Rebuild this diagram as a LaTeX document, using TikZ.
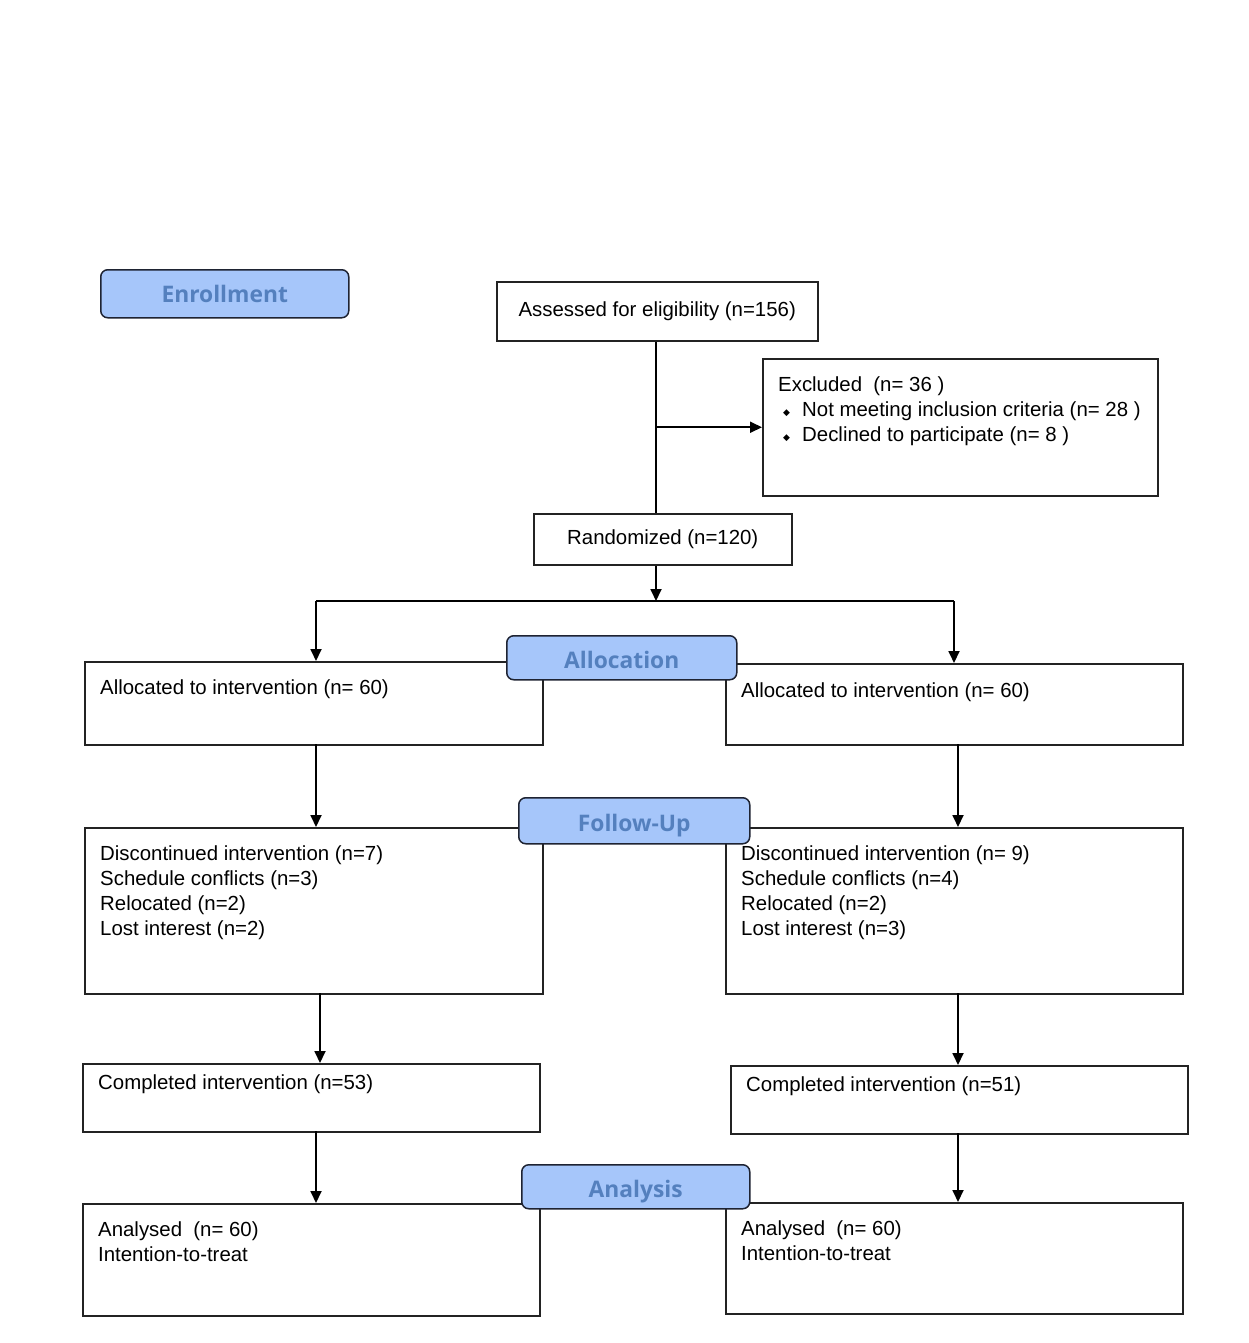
\documentclass[tikz,border=0pt]{standalone}
\usepackage{fontspec}
\setmainfont{Liberation Sans}
\newfontfamily\labfont{Open Sans}
\newfontfamily\symfont{DejaVu Sans}
\usetikzlibrary{arrows.meta}
\definecolor{labfill}{RGB}{166,198,250}
\definecolor{labtext}{RGB}{84,128,190}
\definecolor{boxline}{RGB}{35,35,35}
\definecolor{labline}{RGB}{30,35,50}
\newcommand{\bul}{\hspace*{5pt}\makebox[19pt][l]{\raisebox{1pt}{\symfont\fontsize{9}{9}\selectfont ◆}}}
\begin{document}
\begin{tikzpicture}[x=1pt,y=-1pt,
  box/.style={draw=boxline, line width=1.5pt, inner sep=0pt, anchor=north west, font=\fontsize{20.4}{25}\selectfont},
  phase/.style={draw=labline, line width=1.5pt, fill=labfill, rounded corners=7pt, inner sep=0pt,
    anchor=north west, font=\labfont\bfseries\fontsize{22.8}{26}\selectfont, text=labtext},
  lowtext/.style={text height=22pt, text depth=0pt},
  arr/.style={-{Triangle[length=12pt,width=11pt]}, line width=1.8pt},
  ln/.style={line width=1.8pt},
  txt/.style={anchor=north west, inner sep=0pt, align=left, font=\fontsize{20.4}{25}\selectfont}]
\useasboundingbox (0,0) rectangle (1249,1343);
\fill[white] (0,0) rectangle (1249,1343);

% boxes
\node[box, minimum width=321pt, minimum height=59pt] (assess) at (496,281) {Assessed for eligibility (n=156)};
\node[box, minimum width=395pt, minimum height=137pt] (excl) at (762,358) {};
\node[box, minimum width=258pt, minimum height=51pt] (rand) at (533,513) {Randomized (n=120)};
\node[box, minimum width=458pt, minimum height=83pt] (alloL) at (84,661) {};
\node[box, minimum width=457pt, minimum height=81pt] (alloR) at (725,663) {};
\node[box, minimum width=458pt, minimum height=166pt] (folL) at (84,827) {};
\node[box, minimum width=457pt, minimum height=166pt] (folR) at (725,827) {};
\node[box, minimum width=457pt, minimum height=68pt] (compL) at (82,1063) {};
\node[box, minimum width=457pt, minimum height=68pt] (compR) at (730,1065) {};
\node[box, minimum width=457pt, minimum height=112pt] (anaL) at (82,1203) {};
\node[box, minimum width=457pt, minimum height=111pt] (anaR) at (725,1202) {};

% texts
\node[txt] (tExcl) at (778,377) {Excluded\ \ (n= 36 )\\\bul Not meeting inclusion criteria (n= 28 )\\\bul Declined to participate (n= 8 )};
\node[txt] (tAlloL) at (100,680) {Allocated to intervention (n= 60)};
\node[txt] (tAlloR) at (741,683) {Allocated to intervention (n= 60)};
\node[txt] (tFolL) at (100,846) {Discontinued intervention (n=7)\\Schedule conflicts (n=3)\\Relocated (n=2)\\Lost interest (n=2)};
\node[txt] (tFolR) at (741,846) {Discontinued intervention (n= 9)\\Schedule conflicts (n=4)\\Relocated (n=2)\\Lost interest (n=3)};
\node[txt] (tCompL) at (98,1075) {Completed intervention (n=53)};
\node[txt] (tCompR) at (746,1077) {Completed intervention (n=51)};
\node[txt] (tAnaL) at (98,1222) {Analysed\ \ (n= 60)\\Intention-to-treat};
\node[txt] (tAnaR) at (741,1221) {Analysed\ \ (n= 60)\\Intention-to-treat};

% connectors
\coordinate (split) at (656,601);
\coordinate (bl) at (316,601);
\coordinate (br) at (954,601);
\draw[ln] (split |- assess.south) -- (split |- rand.north);
\draw[arr] (split |- excl.west) -- (excl.west);
\draw[arr] (split |- rand.south) -- (split);
\draw[ln] (bl) -- (br);
\draw[arr] (bl) -- (bl |- alloL.north);
\draw[arr] (br) -- (br |- alloR.north);
\coordinate (a1) at (316,744);
\coordinate (a2) at (958,744);
\draw[arr] (a1) -- (a1 |- folL.north);
\draw[arr] (a2) -- (a2 |- folR.north);
\coordinate (f1) at (320,993);
\coordinate (f2) at (958,993);
\draw[arr] (f1) -- (f1 |- compL.north);
\draw[arr] (f2) -- (f2 |- compR.north);
\coordinate (c1) at (316,1131);
\coordinate (c2) at (958,1133);
\draw[arr] (c1) -- (c1 |- anaL.north);
\draw[arr] (c2) -- (c2 |- anaR.north);

% phase labels
\node[phase, minimum width=248pt, minimum height=48pt] (enr) at (100,269) {Enrollment};
\node[phase, lowtext, minimum width=230pt, minimum height=44pt] (alloc) at (506,635) {Allocation};
\node[phase, lowtext, minimum width=231pt, minimum height=46pt] (fol) at (518,797) {Follow-Up};
\node[phase, lowtext, minimum width=228pt, minimum height=44pt] (ana) at (521,1164) {Analysis};
\end{tikzpicture}
\end{document}
